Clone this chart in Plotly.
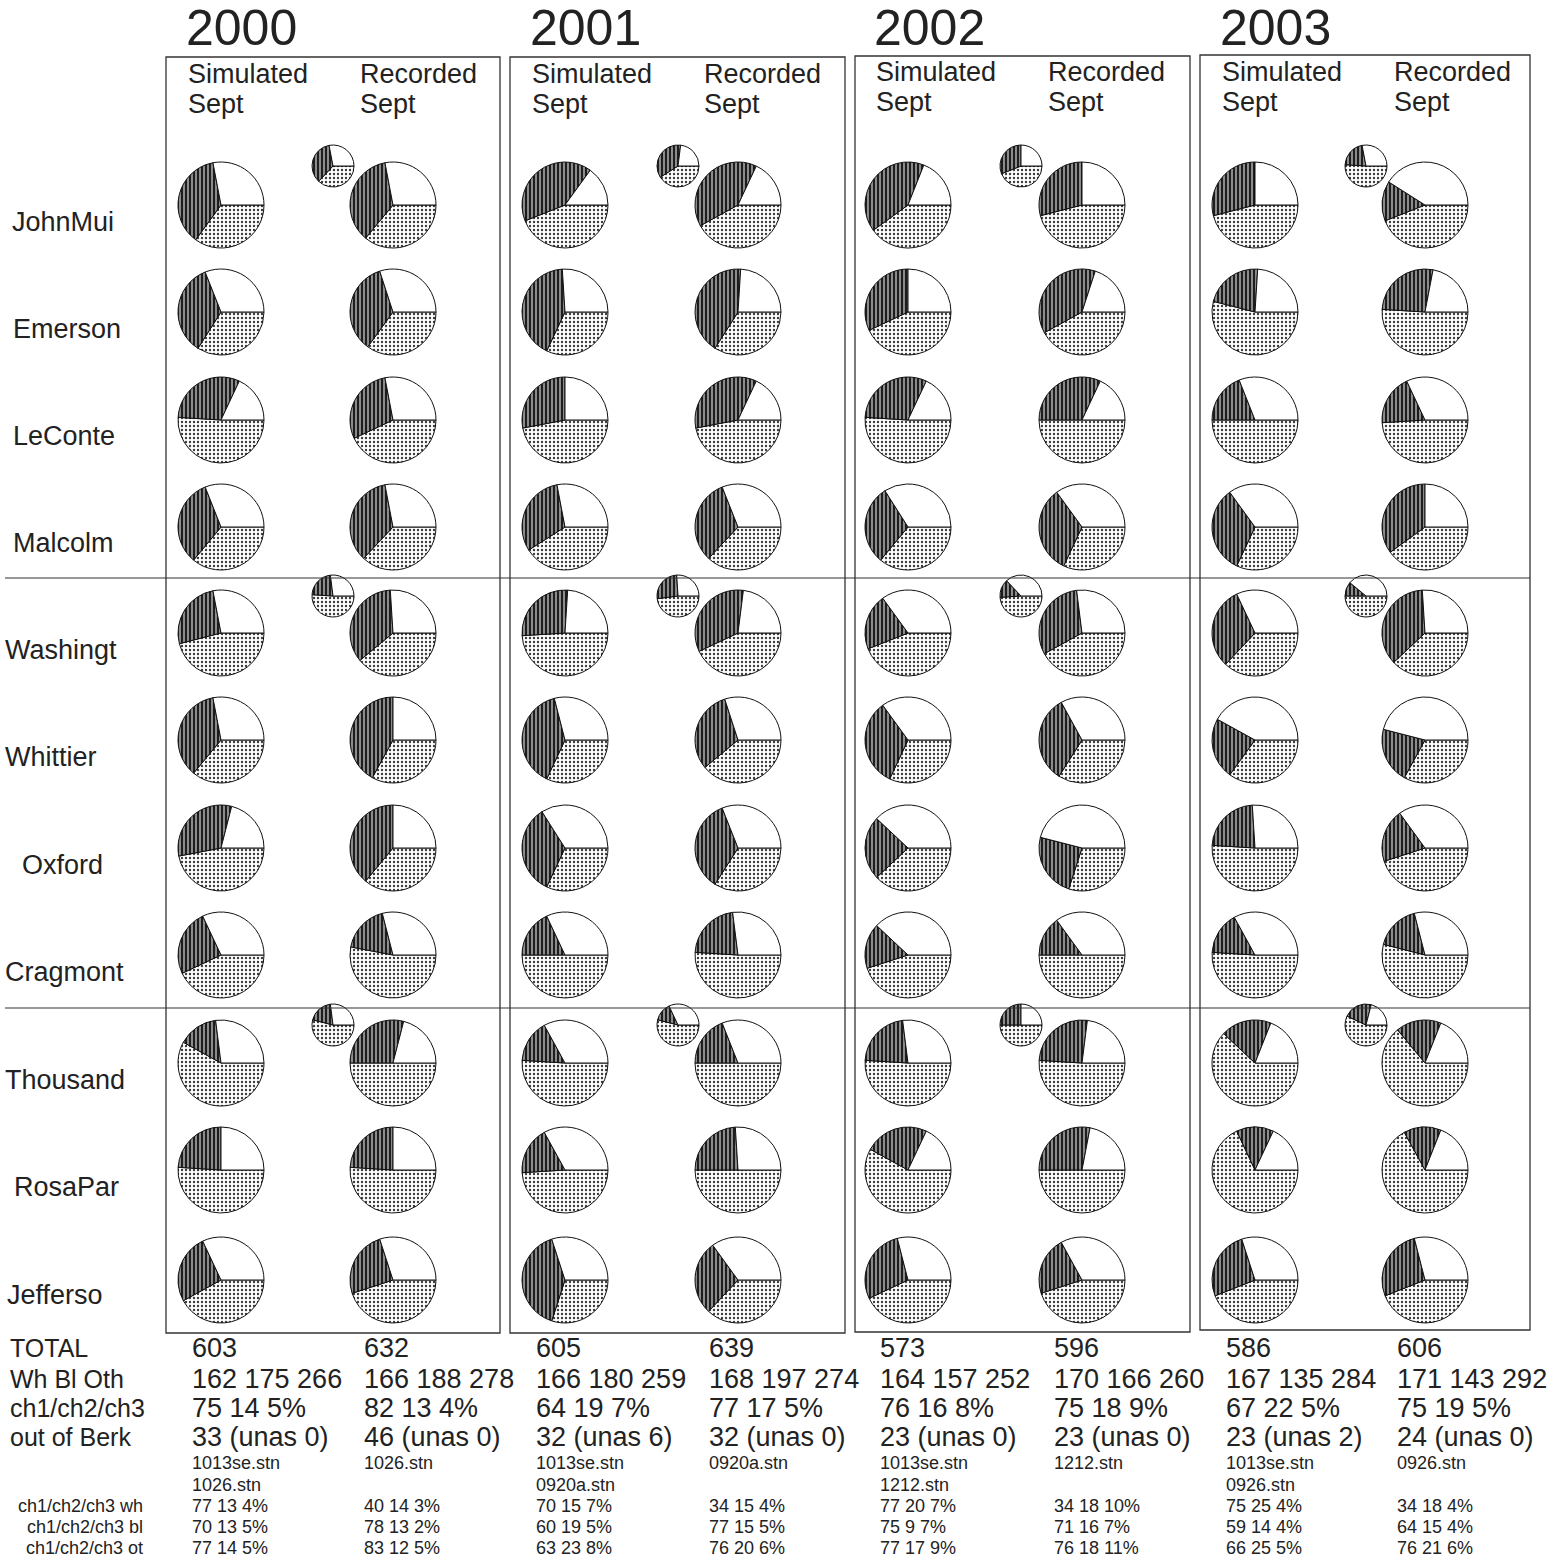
import plotly.graph_objects as go

W, H = 1550, 1559

# ---------------- data ----------------
years = ["2000", "2001", "2002", "2003"]
kinds = ["Simulated", "Recorded"]
schools = ["JohnMui", "Emerson", "LeConte", "Malcolm", "Washingt", "Whittier",
           "Oxford", "Cragmont", "Thousand", "RosaPar", "Jefferso"]

# each pie: (Oth %, Bl %, Wh %)  -> dotted, dark hatched, white
sim_2000 = [(35, 37, 28), (34, 35, 31), (51, 31, 18), (36, 33, 31), (46, 26, 28), (36, 36, 28),
            (47, 32, 21), (43, 25, 32), (58, 15, 27), (51, 24, 25), (42, 26, 32)]
rec_2000 = [(36, 36, 28), (35, 35, 30), (43, 29, 28), (37, 35, 28), (39, 35, 26), (33, 42, 25),
            (36, 39, 25), (53, 18, 29), (50, 29, 21), (51, 24, 25), (45, 25, 30)]
sim_2001 = [(44, 41, 15), (32, 42, 26), (47, 28, 25), (41, 31, 28), (49, 27, 24), (32, 39, 29),
            (32, 34, 34), (50, 18, 32), (51, 16, 33), (49, 18, 33), (30, 40, 30)]
rec_2001 = [(42, 40, 18), (34, 42, 24), (47, 35, 18), (37, 32, 31), (43, 34, 23), (39, 31, 30),
            (34, 35, 31), (51, 22, 27), (50, 19, 31), (50, 24, 26), (37, 28, 35)]
sim_2002 = [(40, 41, 19), (43, 32, 25), (51, 31, 18), (36, 30, 34), (44, 21, 35), (32, 33, 35),
            (38, 24, 38), (45, 17, 38), (51, 22, 27), (58, 24, 18), (43, 28, 29)]
rec_2002 = [(46, 29, 25), (42, 38, 20), (50, 32, 18), (32, 33, 35), (42, 31, 27), (34, 33, 33),
            (30, 24, 46), (50, 15, 35), (51, 26, 23), (50, 28, 22), (45, 22, 33)]
sim_2003 = [(46, 29, 25), (54, 22, 24), (50, 19, 31), (32, 33, 35), (37, 31, 32), (35, 23, 42),
            (51, 23, 26), (51, 16, 33), (62, 19, 19), (68, 14, 18), (44, 26, 30)]
rec_2003 = [(44, 15, 41), (51, 27, 22), (49, 19, 32), (40, 35, 25), (38, 36, 26), (33, 21, 46),
            (45, 20, 35), (54, 17, 29), (64, 17, 19), (67, 14, 19), (44, 27, 29)]

# small group pies (rows 1-4, 5-8, 9-11)
small_2000 = [(37, 35, 28), (51, 22, 27), (54, 19, 27)]
small_2001 = [(41, 36, 23), (48, 26, 26), (54, 14, 32)]
small_2002 = [(44, 31, 25), (49, 14, 37), (50, 25, 25)]
small_2003 = [(51, 21, 28), (50, 11, 39), (57, 22, 21)]

row_labels = ["TOTAL", "Wh Bl Oth", "ch1/ch2/ch3", "out of Berk", "", "",
              "ch1/ch2/ch3 wh", "ch1/ch2/ch3 bl", "ch1/ch2/ch3 ot"]
totals = ["603", "632", "605", "639", "573", "596", "586", "606"]
wh_bl_oth = ["162 175 266", "166 188 278", "166 180 259", "168 197 274",
             "164 157 252", "170 166 260", "167 135 284", "171 143 292"]
ch_pct = ["75 14 5%", "82 13 4%", "64 19 7%", "77 17 5%", "76 16 8%", "75 18 9%", "67 22 5%", "75 19 5%"]
out_berk = ["33 (unas 0)", "46 (unas 0)", "32 (unas 6)", "32 (unas 0)",
            "23 (unas 0)", "23 (unas 0)", "23 (unas 2)", "24 (unas 0)"]
stn_1 = ["1013se.stn", "1026.stn", "1013se.stn", "0920a.stn", "1013se.stn", "1212.stn", "1013se.stn", "0926.stn"]
stn_2 = ["1026.stn", "", "0920a.stn", "", "1212.stn", "", "0926.stn", ""]
wh_pct = ["77 13 4%", "40 14 3%", "70 15 7%", "34 15 4%", "77 20 7%", "34 18 10%", "75 25 4%", "34 18 4%"]
bl_pct = ["70 13 5%", "78 13 2%", "60 19 5%", "77 15 5%", "75 9 7%", "71 16 7%", "59 14 4%", "64 15 4%"]
ot_pct = ["77 14 5%", "83 12 5%", "63 23 8%", "76 20 6%", "77 17 9%", "76 18 11%", "66 25 5%", "76 21 6%"]

# ---------------- layout geometry (pixels) ----------------
col_x = [221, 393, 565, 738, 908, 1082, 1255, 1425]
row_y = [205, 312, 420, 527, 633, 740, 848, 955, 1063, 1170, 1280]
R = 43
small_x = [333, 678, 1021, 1366]
small_y = [166, 596, 1025]
r_small = 21
boxes = [(166, 57, 500, 1333), (510, 57, 845, 1333), (855, 56, 1190, 1332), (1200, 55, 1530, 1330)]
label_pos = [(10, 222), (11, 329), (11, 436), (11, 543), (3, 650), (3, 757),
             (20, 865), (3, 972), (3, 1080), (12, 1187), (5, 1295)]
val_x = [190, 362, 534, 707, 878, 1052, 1224, 1395]

FONT = "Liberation Sans, Arial, sans-serif"
TXT = "#222222"


def px(x):
    return x / W


def py(y):
    return 1 - y / H


pattern = dict(
    shape=[".", "|", ""],
    fgcolor=["#3a3a3a", "#111111", "white"],
    bgcolor=["white", "#8c8c8c", "white"],
    size=[4, 4, 5],
    solidity=[0.28, 0.45, 0.1],
)

fig = go.Figure()


def add_pie(vals, cx, cy, r):
    fig.add_trace(go.Pie(
        values=list(vals),
        labels=["Oth", "Bl", "Wh"],
        sort=False,
        direction="clockwise",
        rotation=90,
        textinfo="none",
        hoverinfo="label+percent",
        showlegend=False,
        marker=dict(colors=["white", "#8c8c8c", "white"],
                    line=dict(color="#111111", width=1),
                    pattern=pattern),
        domain=dict(x=[px(cx - r), px(cx + r)], y=[py(cy + r), py(cy - r)]),
    ))


year_data = [(sim_2000, rec_2000, small_2000), (sim_2001, rec_2001, small_2001),
             (sim_2002, rec_2002, small_2002), (sim_2003, rec_2003, small_2003)]

for yi, (sim, rec, small) in enumerate(year_data):
    for ri in range(len(schools)):
        add_pie(sim[ri], col_x[2 * yi], row_y[ri], R)
        add_pie(rec[ri], col_x[2 * yi + 1], row_y[ri], R)
    for gi in range(3):
        add_pie(small[gi], small_x[yi], small_y[gi], r_small)

shapes = []
for (x0, y0, x1, y1) in boxes:
    shapes.append(dict(type="rect", xref="paper", yref="paper",
                       x0=px(x0), x1=px(x1), y0=py(y1), y1=py(y0),
                       line=dict(color="#333333", width=1.3)))
for yline in (578, 1008):
    shapes.append(dict(type="line", xref="paper", yref="paper",
                       x0=px(5), x1=px(1530), y0=py(yline), y1=py(yline),
                       line=dict(color="#333333", width=1.2)))

ann = []


def text(s, x, y, size, anchor="left"):
    ann.append(dict(text=s, x=px(x), y=py(y), xref="paper", yref="paper",
                    xanchor=anchor, yanchor="middle", showarrow=False,
                    font=dict(family=FONT, size=size, color=TXT)))


# year titles and column headers
title_x = [186, 530, 874, 1220]
for yi, yr in enumerate(years):
    text(yr, title_x[yi] - 2, 28, 50)
    hy = 74 if yi < 2 else 72
    text(kinds[0], title_x[yi], hy, 27)
    text("Sept", title_x[yi], hy + 30, 27)
    text(kinds[1], title_x[yi] + 172, hy, 27)
    text("Sept", title_x[yi] + 172, hy + 30, 27)

# school labels
for name, (lx, ly) in zip(schools, label_pos):
    text(name, lx, ly, 27)

# bottom summary rows
big_rows = [(1348, totals), (1379, wh_bl_oth), (1408, ch_pct), (1437, out_berk)]
for (yy, vals), lab in zip(big_rows, row_labels[:4]):
    text(lab, 8, yy, 25)
    for ci, v in enumerate(vals):
        text(v, val_x[ci], yy, 27)

small_rows = [(1463, stn_1, ""), (1485, stn_2, ""), (1506, wh_pct, row_labels[6]),
              (1527, bl_pct, row_labels[7]), (1548, ot_pct, row_labels[8])]
for yy, vals, lab in small_rows:
    if lab:
        text(lab, 145, yy, 18, anchor="right")
    for ci, v in enumerate(vals):
        if v:
            text(v, val_x[ci], yy, 18)

fig.update_layout(
    width=W, height=H,
    margin=dict(l=0, r=0, t=0, b=0),
    paper_bgcolor="white", plot_bgcolor="white",
    shapes=shapes, annotations=ann,
)

fig.write_html("out.html",
               config={"displayModeBar": False},
               post_script="document.body.style.margin='0';document.body.style.overflow='hidden';")
